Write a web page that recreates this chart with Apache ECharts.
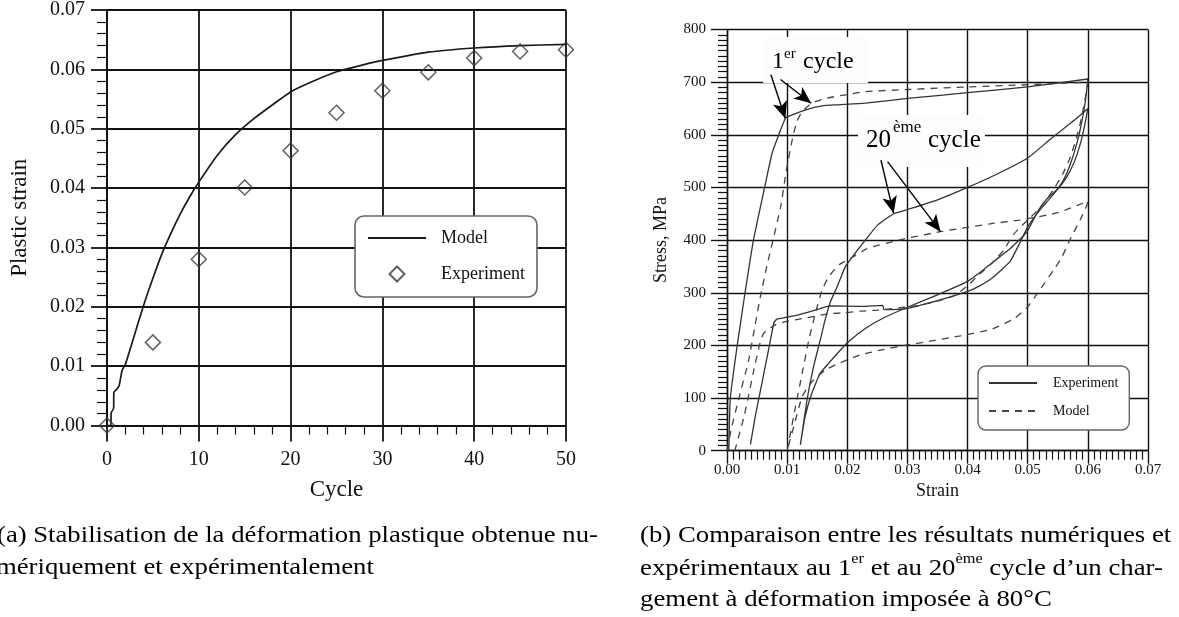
<!DOCTYPE html>
<html>
<head>
<meta charset="utf-8">
<script src="https://cdn.jsdelivr.net/npm/echarts@6/dist/echarts.min.js"></script>
<style>
html,body{margin:0;padding:0;background:#fff;}
#c{width:1179px;height:617px;}
</style>
</head>
<body>
<div id="c"></div>
<script>
// ---------- (a) Plastic strain vs cycle ----------
const expCycles = [0, 5, 10, 15, 20, 25, 30, 35, 40, 45, 50];
const expPlasticStrain = [0.0000, 0.0140, 0.0280, 0.0401, 0.0463, 0.0527, 0.0564, 0.0595, 0.0619, 0.0630, 0.0633];

const modelCycles = [0, 0.43, 0.45, 0.72, 0.75, 1.0, 1.3, 1.65, 2, 3, 4, 5, 6, 7, 8, 9, 10, 12, 14, 16, 18, 20, 22, 25, 28, 30, 35, 40, 45, 50];
const modelPlasticStrain = [0, 0, 0.0021, 0.0029, 0.0056, 0.0060, 0.0066, 0.0093, 0.0103, 0.0153, 0.0203, 0.0248, 0.0290, 0.0325, 0.0357, 0.0385, 0.0410, 0.0455, 0.0490, 0.0517, 0.0540, 0.0562, 0.0577, 0.0596, 0.0608, 0.0615, 0.0629, 0.0636, 0.0640, 0.0642];

// ---------- (b) Stress-strain, 1st and 20th cycle ----------
const exp1Load = [[0.0003,0],[0.00055,100],[0.0017,200],[0.0030,300],[0.0044,400],[0.0058,476],[0.0075,565],[0.0089,609],[0.0097,631],[0.0100,634],[0.0130,647],[0.0158,655],[0.0186,657],[0.0230,660],[0.0300,669],[0.0400,680],[0.0500,691],[0.0600,706]];
const exp1Unload = [[0.0596,665],[0.0590,625],[0.0582,585],[0.0572,548],[0.0560,515],[0.0545,490],[0.0530,470],[0.0515,450],[0.0500,425],[0.0487,395],[0.0471,360],[0.0443,330],[0.0420,313],[0.0399,302],[0.0350,285],[0.0299,270],[0.0261,268],[0.0259,276],[0.0222,274],[0.0172,275],[0.0147,267],[0.0119,258],[0.0097,253],[0.0083,250],[0.0078,243],[0.0069,191],[0.0058,128],[0.0047,65],[0.0039,12]];
const exp20Load = [[0.0122,11],[0.0133,96],[0.0144,160],[0.0155,210],[0.0163,248],[0.0172,283],[0.0183,311],[0.0197,350],[0.0213,375],[0.0230,400],[0.0250,428],[0.0277,450],[0.0300,458],[0.0349,476],[0.0400,500],[0.0450,526],[0.0500,556],[0.0536,590],[0.0560,612],[0.0580,630],[0.0600,650]];
const exp20Unload = [[0.0595,620],[0.0588,585],[0.0578,550],[0.0565,520],[0.0550,497],[0.0535,482],[0.0526,470],[0.0515,451],[0.0499,416],[0.0471,384],[0.0443,359],[0.0420,338],[0.0399,321],[0.0350,296],[0.0299,272],[0.0260,252],[0.0230,232],[0.0202,207],[0.0186,188],[0.0169,166],[0.0155,147],[0.0141,109],[0.0130,65],[0.0122,11]];
const mod1Load = [[0.0000,0],[0.0008,46],[0.0019,96],[0.0036,172],[0.0047,240],[0.0055,290],[0.0066,349],[0.0089,462],[0.0098,528],[0.0108,588],[0.0116,625],[0.0125,644],[0.0141,660],[0.0163,669],[0.0197,676],[0.0230,682],[0.0300,686],[0.0400,691],[0.0500,695],[0.0600,700]];
const mod1Unload = [[0.0595,665],[0.0588,625],[0.0580,590],[0.0570,555],[0.0558,525],[0.0545,500],[0.0530,475],[0.0515,455],[0.0500,438],[0.0488,425],[0.0476,410],[0.0460,381],[0.0443,359],[0.0415,330],[0.0399,312],[0.0377,294],[0.0340,281],[0.0300,273],[0.0250,267],[0.0222,265],[0.0197,262],[0.0169,260],[0.0130,252],[0.0097,245],[0.0080,239],[0.0061,223],[0.0055,205],[0.0045,155],[0.0029,68],[0.0013,0]];
const mod20Load = [[0.0100,0],[0.0114,84],[0.0125,147],[0.0136,210],[0.0147,261],[0.0158,305],[0.0169,330],[0.0186,353],[0.0208,367],[0.0233,384],[0.0293,402],[0.0355,416],[0.0438,431],[0.0487,438],[0.0550,452],[0.0600,474]];
const mod20Unload = [[0.0598,465],[0.0587,438],[0.0570,400],[0.0557,368],[0.0543,343],[0.0526,315],[0.0512,292],[0.0499,272],[0.0479,252],[0.0457,239],[0.0438,230],[0.0388,218],[0.0332,207],[0.0300,201],[0.0255,191],[0.0222,182],[0.0186,166],[0.0163,153],[0.0141,131],[0.0125,103],[0.0112,50],[0.0100,0]];

// annotation arrows [start, tip] in (strain, stress)
const arrows = [
  [[0.0073,714],[0.0097,631]],
  [[0.0089,705],[0.0140,660]],
  [[0.0256,552],[0.0277,451]],
  [[0.0267,549],[0.0355,416]]
];

const F = "'Liberation Serif', 'Times New Roman', serif";
const INK = '#111';
const NO_SYMBOL = {color: 'rgba(0,0,0,0)', borderWidth: 0, opacity: 0};
// legend icon: a square diamond centred in the 58x16 legend slot
const DIAMOND_ICON = 'path://M0,8M58,8M29,0.5L36.5,8L29,15.5L21.5,8Z';

function axisCommon(lw, tickLen, minorLen, minorSplit, labelSize, margin, fmt) {
  return {
    axisLine: {show: true, onZero: false, lineStyle: {color: INK, width: lw}},
    axisTick: {show: true, inside: false, length: tickLen, lineStyle: {color: INK, width: lw}},
    minorTick: {show: true, splitNumber: minorSplit, length: minorLen, lineStyle: {color: INK, width: 1.2}},
    splitLine: {show: true, lineStyle: {color: INK, width: lw}},
    axisLabel: {fontFamily: F, fontSize: labelSize, color: INK, margin: margin, formatter: fmt}
  };
}

const chart = echarts.init(document.getElementById('c'), null, {renderer: 'canvas'});

const option = {
  backgroundColor: '#fff',
  animation: false,
  grid: [
    {left: 107, top: 9, width: 459, height: 416.5},
    {left: 727, top: 29.5, width: 421, height: 421.2}
  ],
  xAxis: [
    Object.assign({gridIndex: 0, type: 'value', min: 0, max: 50, interval: 10,
      name: 'Cycle', nameLocation: 'middle', nameGap: 53,
      nameTextStyle: {fontFamily: F, fontSize: 23, color: INK}},
      axisCommon(1.8, 16, 9, 5, 20, 24, v => String(Math.round(v)))),
    Object.assign({gridIndex: 1, type: 'value', min: 0, max: 0.07, interval: 0.01,
      name: 'Strain', nameLocation: 'middle', nameGap: 26,
      nameTextStyle: {fontFamily: F, fontSize: 18, color: INK}},
      axisCommon(1.4, 13, 9, 10, 15, 12, v => v.toFixed(2)))
  ],
  yAxis: [
    Object.assign({gridIndex: 0, type: 'value', min: 0, max: 0.07, interval: 0.01,
      name: 'Plastic strain', nameLocation: 'middle', nameGap: 76,
      nameTextStyle: {fontFamily: F, fontSize: 23, color: INK}},
      axisCommon(1.8, 16, 10, 5, 20, 22, v => v.toFixed(2))),
    Object.assign({gridIndex: 1, type: 'value', min: 0, max: 800, interval: 100,
      name: 'Stress, MPa', nameLocation: 'middle', nameGap: 57,
      nameTextStyle: {fontFamily: F, fontSize: 18, color: INK}},
      axisCommon(1.4, 16, 9, 10, 15, 21, v => String(Math.round(v))))
  ],
  legend: [
    {
      data: [{name: 'Model', itemStyle: NO_SYMBOL}, {name: 'Experiment', icon: DIAMOND_ICON}],
      orient: 'vertical', left: 355, top: 216,
      itemWidth: 58, itemHeight: 16, itemGap: 18, padding: [13, 12, 14, 12],
      backgroundColor: '#fff', borderColor: '#666', borderWidth: 1.6, borderRadius: 9,
      selectedMode: false,
      textStyle: {fontFamily: F, fontSize: 18, color: INK, padding: [0, 0, 0, 10]}
    },
    {
      data: [{name: 'Experiment (b)', itemStyle: NO_SYMBOL}, {name: 'Model (b)', itemStyle: NO_SYMBOL}],
      orient: 'vertical', left: 978, top: 366,
      itemWidth: 48, itemHeight: 14, itemGap: 14, padding: [10, 11, 12, 10],
      backgroundColor: '#fff', borderColor: '#666', borderWidth: 1.4, borderRadius: 8,
      selectedMode: false,
      formatter: n => n.replace(' (b)', ''),
      textStyle: {fontFamily: F, fontSize: 14, color: INK, padding: [0, 0, 0, 11]}
    }
  ],
  series: [
    {type: 'line', name: 'Model', xAxisIndex: 0, yAxisIndex: 0,
     data: modelCycles.map((c, i) => [c, modelPlasticStrain[i]]),
     symbol: 'none', smooth: 0.2, itemStyle: {color: '#1a1a1a'},
     lineStyle: {color: '#1a1a1a', width: 1.7}, z: 3},
    {type: 'scatter', name: 'Experiment', xAxisIndex: 0, yAxisIndex: 0,
     data: expCycles.map((c, i) => [c, expPlasticStrain[i]]),
     symbol: 'diamond', symbolSize: [15, 15],
     itemStyle: {color: 'rgba(255,255,255,0)', borderColor: '#3a3a3a', borderWidth: 1.5}, z: 4},
    {type: 'line', name: 'Experiment (b)', xAxisIndex: 1, yAxisIndex: 1,
     data: exp1Load.concat(exp1Unload), symbol: 'none', smooth: 0.15,
     itemStyle: {color: '#333'},
     lineStyle: {color: '#333', width: 1.3}, z: 3,
     markLine: {
       silent: true, symbol: ['none', 'arrow'], symbolSize: [11, 17],
       lineStyle: {color: '#000', width: 1.4, type: 'solid'},
       label: {show: false},
       data: arrows.map(a => [{coord: a[0]}, {coord: a[1]}])
     }},
    {type: 'line', name: 'Experiment (b)', xAxisIndex: 1, yAxisIndex: 1,
     data: exp20Load.concat(exp20Unload), symbol: 'none', smooth: 0.15,
     itemStyle: {color: '#333'},
     lineStyle: {color: '#333', width: 1.3}, z: 3},
    {type: 'line', name: 'Model (b)', xAxisIndex: 1, yAxisIndex: 1,
     data: mod1Load.concat(mod1Unload), symbol: 'none', smooth: 0.15,
     itemStyle: {color: '#444'},
     lineStyle: {color: '#444', width: 1.3, type: [7, 6]}, z: 3},
    {type: 'line', name: 'Model (b)', xAxisIndex: 1, yAxisIndex: 1,
     data: mod20Load.concat(mod20Unload), symbol: 'none', smooth: 0.15,
     itemStyle: {color: '#444'},
     lineStyle: {color: '#444', width: 1.3, type: [7, 6]}, z: 3}
  ],
  graphic: [
    // label boxes in (b)
    {type: 'rect', z: 1, shape: {x: 763, y: 37, width: 105, height: 46}, style: {fill: '#fdfdfd'}},
    {type: 'rect', z: 1, shape: {x: 858, y: 115, width: 127, height: 52}, style: {fill: '#fdfdfd'}},
    {type: 'text', z: 5, left: 772, top: 50, style: {text: '1', font: "24px 'Liberation Serif'", fill: '#000'}},
    {type: 'text', z: 5, left: 784, top: 47, style: {text: 'er', font: "15px 'Liberation Serif'", fill: '#000'}},
    {type: 'text', z: 5, left: 803, top: 50, style: {text: 'cycle', font: "24px 'Liberation Serif'", fill: '#000'}},
    {type: 'text', z: 5, left: 866, top: 128, style: {text: '20', font: "25px 'Liberation Serif'", fill: '#000'}},
    {type: 'text', z: 5, left: 893, top: 119, style: {text: 'ème', font: "17px 'Liberation Serif'", fill: '#000'}},
    {type: 'text', z: 5, left: 928, top: 128, style: {text: 'cycle', font: "25px 'Liberation Serif'", fill: '#000'}},
    // captions (horizontally widened to mimic the original Computer Modern setting)
    {type: 'text', x: -3, y: 524, scaleX: 1.16, style: {text: '(a) Stabilisation de la déformation plastique obtenue nu-', font: "23px 'Liberation Serif'", fill: '#000'}},
    {type: 'text', x: -4, y: 556, scaleX: 1.16, style: {text: 'mériquement et expérimentalement', font: "23px 'Liberation Serif'", fill: '#000'}},
    {type: 'text', x: 640, y: 524, scaleX: 1.165, style: {text: '(b) Comparaison entre les résultats numériques et', font: "23px 'Liberation Serif'", fill: '#000'}},
    {type: 'text', x: 640, y: 550, scaleX: 1.165, style: {
      text: '{n|expérimentaux au 1}{s|er}{n| et au 20}{s|ème}{n| cycle d\u2019un char-}',
      rich: {
        n: {fontFamily: F, fontSize: 23, color: '#000', lineHeight: 30, verticalAlign: 'bottom'},
        s: {fontFamily: F, fontSize: 14, color: '#000', lineHeight: 30, verticalAlign: 'top', padding: [2, 0, 0, 0]}
      }}},
    {type: 'text', x: 640, y: 588, scaleX: 1.165, style: {text: 'gement à déformation imposée à 80°C', font: "23px 'Liberation Serif'", fill: '#000'}}
  ]
};

chart.setOption(option);
</script>
</body>
</html>
